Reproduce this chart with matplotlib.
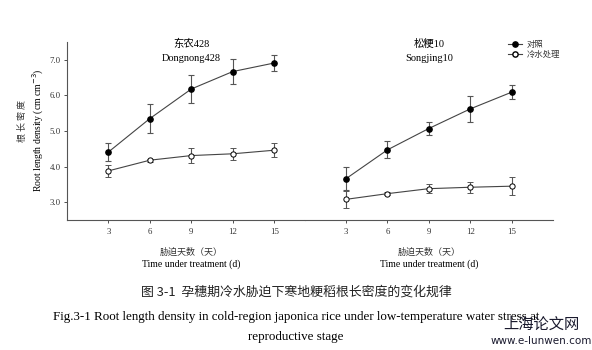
import matplotlib
matplotlib.use("Agg")
import matplotlib.pyplot as plt
from matplotlib.lines import Line2D

days = [3, 6, 9, 12, 15]
# Dongnong428
dn_ck = [4.41, 5.35, 6.18, 6.67, 6.91]
dn_ck_err = [0.26, 0.41, 0.38, 0.36, 0.22]
dn_cold = [3.88, 4.18, 4.31, 4.36, 4.46]
dn_cold_err = [0.17, 0.04, 0.20, 0.17, 0.19]
# Songjing10
sj_ck = [3.66, 4.47, 5.07, 5.62, 6.09]
sj_ck_err = [0.32, 0.24, 0.19, 0.36, 0.20]
sj_cold = [3.08, 3.24, 3.38, 3.42, 3.45]
sj_cold_err = [0.24, 0.05, 0.12, 0.15, 0.25]
yticks = [3.0, 4.0, 5.0, 6.0, 7.0]
legend_labels = ["对照", "冷水处理"]

serif = ["Liberation Serif", "Noto Sans CJK SC"]
cjk = ["Noto Sans CJK SC", "DejaVu Sans"]

W, H = 592, 350
fig = plt.figure(figsize=(W / 100, H / 100), dpi=100)

def fx(px):
    return px / W

def fy(py):
    return 1 - py / H

axL = fig.add_axes([fx(67), fy(220), fx(304.6 - 67), fy(42) - fy(220)])
axR = fig.add_axes([fx(304.6), fy(220), fx(553 - 304.6), fy(42) - fy(220)])

line_c = "#444444"
err_c = "#555555"

def draw(ax, ck, ckerr, cold, colderr):
    ax.errorbar(days, ck, yerr=ckerr, color=line_c, ecolor=err_c, lw=0.8,
                elinewidth=0.8, capsize=2.5, capthick=0.8, marker="o",
                markersize=3.8, mfc="black", mec="black", zorder=3)
    ax.errorbar(days, cold, yerr=colderr, color=line_c, ecolor=err_c, lw=0.8,
                elinewidth=0.8, capsize=2.5, capthick=0.8, marker="o",
                markersize=3.8, mfc="white", mec="black", mew=0.7, zorder=3)
    ax.set_ylim(2.5, 7.5)
    ax.set_xticks(days)
    ax.set_xticklabels([str(d) for d in days], fontsize=6.3, family=serif)
    ax.tick_params(axis="x", length=2.5, width=0.6, pad=3, colors="#333333")
    for s in ["top", "right"]:
        ax.spines[s].set_visible(False)
    ax.spines["bottom"].set_color("#555555")
    ax.spines["bottom"].set_linewidth(0.8)

draw(axL, dn_ck, dn_ck_err, dn_cold, dn_cold_err)
draw(axR, sj_ck, sj_ck_err, sj_cold, sj_cold_err)
axL.set_xlim(0, 17.2)
axR.set_xlim(0, 18)

axL.set_yticks(yticks)
axL.set_yticklabels([f"{v:.1f}" for v in yticks], fontsize=6.3, family=serif)
axL.tick_params(axis="y", length=2.5, width=0.6, pad=2, colors="#333333")
axL.spines["left"].set_color("#555555")
axL.spines["left"].set_linewidth(0.8)

axR.spines["left"].set_visible(False)
axR.set_yticks([])

# panel titles
for ax, t1, t2 in [(axL, "东农428", "Dongnong428"), (axR, "松粳10", "Songjing10")]:
    ax.text(9, 7.45, t1, ha="center", va="center", fontsize=7.5, family=serif)
    ax.text(9, 7.05, t2, ha="center", va="center", fontsize=7.5, family=serif)
    ax.text(9, 1.6, "胁迫天数（天）", ha="center", va="center", fontsize=6.5,
            family=cjk, color="#333333", clip_on=False)
    ax.text(9, 1.25, "Time under treatment (d)", ha="center", va="center",
            fontsize=7, family=serif, clip_on=False)

# legend
handles = [
    Line2D([], [], color=line_c, lw=0.8, marker="o", markersize=3.8, mfc="black", mec="black"),
    Line2D([], [], color=line_c, lw=0.8, marker="o", markersize=3.8, mfc="white", mec="black"),
]
anchor_x = (508 - 304.6) / (553 - 304.6)
anchor_y = 1 - (40 - 42) / (220 - 42)
leg = axR.legend(handles, legend_labels, loc="upper left", bbox_to_anchor=(anchor_x, anchor_y),
                 bbox_transform=axR.transAxes, frameon=False, handlelength=1.7,
                 handletextpad=0.5, labelspacing=0.15, borderaxespad=0, borderpad=0,
                 prop={"family": cjk, "size": 6})
for t in leg.get_texts():
    t.set_color("#333333")

# y labels
fig.text(fx(22), fy(121), "根 长 密 度", rotation=90, ha="center", va="center",
         fontsize=6.5, family=cjk, color="#333333")
fig.text(fx(38), fy(130), "Root length density (cm cm$^{-3}$)", rotation=90,
         ha="center", va="center", fontsize=7, family=serif)

# caption
fig.text(0.5, fy(292), "图 3-1  孕穗期冷水胁迫下寒地粳稻根长密度的变化规律", ha="center",
         va="center", fontsize=9.3, family=cjk, color="#222222")
fig.text(0.5, fy(317), "Fig.3-1 Root length density in cold-region japonica rice under low-temperature water stress at",
         ha="center", va="center", fontsize=9.4, family=serif)
fig.text(0.5, fy(337), "reproductive stage", ha="center", va="center", fontsize=9.4, family=serif)

# watermark
fig.text(fx(541), fy(324), "上海论文网", ha="center", va="center", fontsize=11,
         family=cjk, color="#1a1a2e")
fig.text(fx(541), fy(341), "www.e-lunwen.com", ha="center", va="center", fontsize=7.5,
         family=["DejaVu Sans"], color="#1a1a2e")

fig.savefig("out.png", dpi=100)
